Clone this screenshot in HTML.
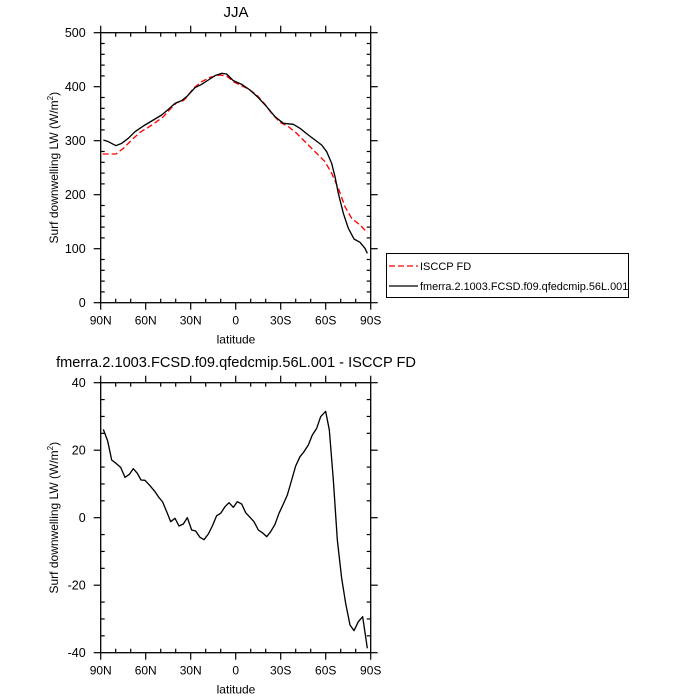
<!DOCTYPE html>
<html><head><meta charset="utf-8"><style>
body{margin:0;background:#fff;}
svg{display:block;font-family:"Liberation Sans",sans-serif;}
</style></head><body>
<svg id="s" width="700" height="700" xmlns="http://www.w3.org/2000/svg">
<rect width="700" height="700" fill="#fff"/>
<text x="236" y="17" font-size="15" text-anchor="middle">JJA</text>
<text x="236" y="367" font-size="14.6" text-anchor="middle">fmerra.2.1003.FCSD.f09.qfedcmip.56L.001 - ISCCP FD</text>
<g fill="none" stroke-linejoin="round">
<polyline transform="translate(80,20) scale(0.33333)" stroke="#f00" stroke-width="4" stroke-dasharray="18,9" points="68,402 108,402 130,385 155,360 180,337 205,322 230,305 250,290 270,268 290,248 310,242 320,232 340,205 365,185 390,172 420,165 440,168 460,185 480,195 505,207 530,225 555,253 575,280 600,307 625,320 650,340 680,370 710,400 735,425 755,460 775,505 795,560 815,595 840,615 862,638"/>
<polyline transform="translate(80,20) scale(0.33333)" stroke="#000" stroke-width="4" points="70,360 85,365 108,377 125,370 145,355 165,335 190,318 215,303 245,285 265,268 285,250 305,242 320,230 345,203 365,193 385,180 405,167 425,160 440,162 460,182 485,193 510,210 535,233 560,260 585,290 610,310 640,313 660,325 685,345 705,360 725,375 740,395 755,430 765,470 775,520 790,580 805,625 822,657 840,667 855,685 862,700"/>
<polyline transform="translate(80,370) scale(0.33333)" stroke="#000" stroke-width="4" points="70,178 83,213 95,270 108,280 122,292 135,322 148,313 160,296 172,310 183,330 195,331 210,347 225,365 235,380 248,396 260,425 272,455 285,445 297,468 310,462 322,443 335,480 347,483 360,502 372,509 385,492 397,468 410,437 422,430 435,410 447,398 460,412 472,395 485,402 497,428 510,442 522,455 535,480 547,488 560,500 572,485 585,463 597,430 610,402 622,375 635,330 647,288 660,260 672,245 685,225 697,195 710,175 722,140 737,124 748,180 760,330 772,510 785,625 797,700 810,765 822,782 835,755 848,740 862,835"/>
</g>
<rect x="386.5" y="253.5" width="242" height="44" fill="none" stroke="#000" stroke-width="1"/>
<line x1="389" y1="266" x2="418" y2="266" stroke="#f00" stroke-width="1.3" stroke-dasharray="6,3"/>
<line x1="389" y1="286" x2="418" y2="286" stroke="#000" stroke-width="1.3"/>
<text x="420" y="270" font-size="11">ISCCP FD</text>
<text x="420" y="290" font-size="10.9">fmerra.2.1003.FCSD.f09.qfedcmip.56L.001</text>
<g id="axes"></g>
</svg>
<script>
var g=document.getElementById('axes'),NS='http://www.w3.org/2000/svg';
function el(t,a,txt){var e=document.createElementNS(NS,t);for(var k in a)e.setAttribute(k,a[k]);if(txt!=null)e.textContent=txt;g.appendChild(e);}
function ln(x1,y1,x2,y2){el('line',{x1:x1,y1:y1,x2:x2,y2:y2,stroke:'#000','stroke-width':1.2});}
var xl=100.7,xr=370.7,xlab=['90N','60N','30N','0','30S','60S','90S'];
function panel(top,bot,ymin,ymax,maj,min){
 el('rect',{x:xl,y:top,width:xr-xl,height:bot-top,fill:'none',stroke:'#000','stroke-width':1.3});
 for(var d=0;d<=180;d+=10){var x=xl+(xr-xl)*d/180,M=(d%30==0);
  if(M){ln(x,bot+7,x,bot);ln(x,top-7,x,top);}else{ln(x,bot,x,bot-4);ln(x,top,x,top+4);}
  if(M)el('text',{x:x,y:bot+22,'font-size':12,'text-anchor':'middle'},xlab[d/30]);}
 for(var v=ymin;v<=ymax+1e-9;v+=min){var y=bot-(bot-top)*(v-ymin)/(ymax-ymin),r=((v-ymin)%maj+maj)%maj,isM=r<1e-6||Math.abs(r-maj)<1e-6;
  if(isM){ln(xl-7,y,xl,y);ln(xr+7,y,xr,y);}else{ln(xl,y,xl+4,y);ln(xr,y,xr-4,y);}
  if(isM)el('text',{x:xl-15,y:y+4.5,'font-size':12.5,'text-anchor':'end'},String(Math.round(v)));}
 el('text',{x:236,y:bot+41,'font-size':12,'text-anchor':'middle'},'latitude');
 var cy=(top+bot)/2;
 var t=document.createElementNS(NS,'text');t.setAttribute('transform','translate(58,'+cy+') rotate(-90)');t.setAttribute('font-size','12');t.setAttribute('text-anchor','middle');
 t.innerHTML='Surf downwelling LW (W/m<tspan font-size="8" dy="-5">2</tspan><tspan dy="5">)</tspan>';g.appendChild(t);
}
panel(32.7,302.7,0,500,100,20);
panel(382.7,652.7,-40,40,20,5);
</script>
</body></html>
